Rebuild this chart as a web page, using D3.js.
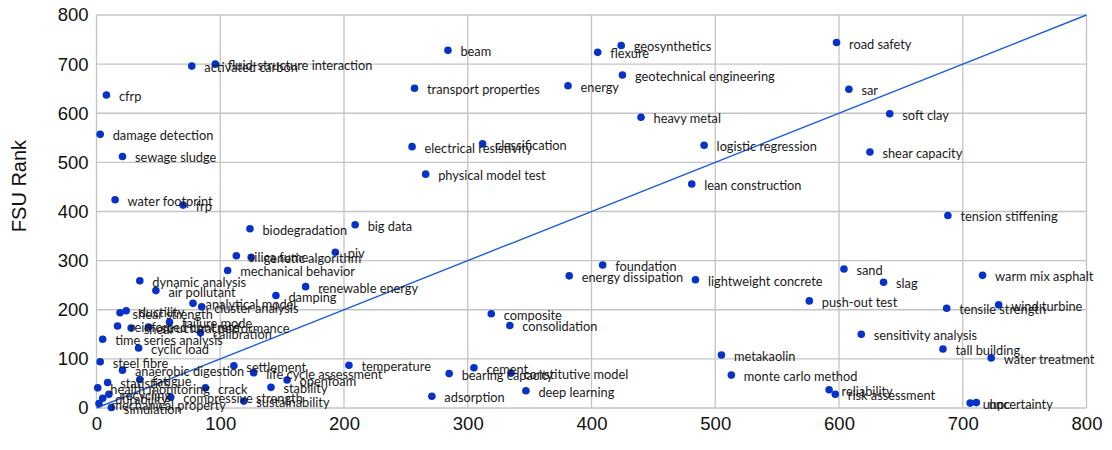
<!DOCTYPE html>
<html>
<head>
<meta charset="utf-8">
<script src="https://cdn.jsdelivr.net/npm/d3@7"></script>
<style>
  html, body { margin: 0; padding: 0; background: #fff; }
  svg { display: block; }
</style>
</head>
<body>
<svg id="chart" width="1112" height="450"></svg>
<script>
// ---- data ----
const labels = [
  "road safety","geosynthetics","beam","flexure","fluid-structure interaction","activated carbon",
  "geotechnical engineering","energy","transport properties","sar","cfrp","soft clay","heavy metal",
  "damage detection","classification","logistic regression","electrical resistivity","shear capacity",
  "sewage sludge","physical model test","lean construction","water footprint","frp","tension stiffening",
  "big data","biodegradation","piv","silica fume","genetic algorithm","foundation","sand",
  "mechanical behavior","warm mix asphalt","energy dissipation","lightweight concrete","dynamic analysis",
  "slag","renewable energy","air pollutant","damping","push-out test","analytical model","wind turbine",
  "cluster analysis","tensile strength","ductility","shear strength","composite","failure mode",
  "consolidation","reinforced concrete","structural performance","shear","calibration",
  "sensitivity analysis","time series analysis","cyclic load","tall building","metakaolin",
  "water treatment","steel fibre","temperature","settlement","cement","anaerobic digestion",
  "life cycle assessment","constitutive model","bearing capacity","monte carlo method","fatigue",
  "openfoam","statistics","stability","health monitoring","crack","reliability","deep learning",
  "risk assessment","adsorption","compressive strength","durability","recycling","sustainability",
  "uncertainty","uhpc","mechanical property","simulation"
];
const xValues = [
  598,424,284,405,96,77,
  425,381,257,608,8,641,440,
  3,312,491,255,625,
  21,266,481,15,70,688,
  209,124,193,113,125,409,604,
  106,716,382,484,35,
  636,169,48,145,576,78,729,
  85,687,24,19,319,59,
  334,17,42,28,84,
  618,5,34,684,505,
  723,3,204,111,305,21,
  127,335,285,513,35,
  154,9,141,1,88,592,347,
  597,271,60,5,10,119,
  711,706,2,12
];
const yValues = [
  744,738,728,724,700,696,
  678,656,651,649,637,599,592,
  557,538,535,532,521,
  512,476,456,424,413,392,
  373,365,317,310,307,291,283,
  280,270,269,261,259,
  256,247,239,229,218,213,210,
  206,203,198,194,192,175,
  168,167,165,163,153,
  150,140,122,120,108,
  102,94,87,86,82,77,
  72,71,70,67,58,
  57,52,42,41,41,37,35,
  28,24,22,20,28,14,
  11,10,9,1
];
const xTicks = [0,100,200,300,400,500,600,700,800];
const yTicks = [0,100,200,300,400,500,600,700,800];
const yTitle = "FSU Rank";

// ---- layout ----
const svg = d3.select("#chart");
const pLeft = 96.5, pRight = 1086.5, pTop = 15, pBottom = 408;
const x = d3.scaleLinear().domain([0, 800]).range([pLeft, pRight]);
const y = d3.scaleLinear().domain([0, 800]).range([pBottom, pTop]);

// grid
const grid = svg.append("g");
grid.selectAll("line.v").data(xTicks).join("line").attr("class", "v")
  .attr("x1", d => x(d)).attr("x2", d => x(d))
  .attr("y1", pTop).attr("y2", pBottom)
  .attr("stroke", "#c4c4c4").attr("stroke-width", 1.3);
grid.selectAll("line.h").data(yTicks).join("line").attr("class", "h")
  .attr("y1", d => y(d)).attr("y2", d => y(d))
  .attr("x1", pLeft).attr("x2", pRight)
  .attr("stroke", "#c4c4c4").attr("stroke-width", 1.3);

// axes (labels only)
const xAxis = d3.axisBottom(x).tickValues(xTicks).tickSize(0).tickPadding(9);
const gx = svg.append("g").attr("transform", `translate(0,${pBottom})`).call(xAxis);
gx.select(".domain").remove();
gx.selectAll("text").attr("font-family", "'Liberation Sans', Arial, sans-serif")
  .attr("font-size", 18.5).attr("fill", "#111");

const yAxis = d3.axisLeft(y).tickValues(yTicks).tickSize(0).tickPadding(8);
const gy = svg.append("g").attr("transform", `translate(${pLeft},0)`).call(yAxis);
gy.select(".domain").remove();
gy.selectAll("text").attr("font-family", "'Liberation Sans', Arial, sans-serif")
  .attr("font-size", 18.5).attr("fill", "#111");

svg.append("text")
  .attr("transform", `translate(26,186) rotate(-90)`)
  .attr("text-anchor", "middle")
  .attr("font-family", "'Liberation Sans', Arial, sans-serif")
  .attr("font-size", 20).attr("fill", "#111")
  .text(yTitle);

// diagonal reference line
svg.append("line")
  .attr("x1", x(0)).attr("y1", y(0))
  .attr("x2", x(800)).attr("y2", y(800))
  .attr("stroke", "#1f5fd6").attr("stroke-width", 1.4);

// points + labels
const pts = labels.map((l, i) => ({ label: l, x: xValues[i], y: yValues[i] }));
const g = svg.append("g");
g.selectAll("circle").data(pts).join("circle")
  .attr("cx", d => x(d.x)).attr("cy", d => y(d.y))
  .attr("r", 3.8).attr("fill", "#0632c8");
g.selectAll("text").data(pts).join("text")
  .attr("x", d => x(d.x) + 12.5).attr("y", d => y(d.y) + 6)
  .attr("font-family", "Lato, 'Open Sans', sans-serif")
  .attr("font-size", 12.8).attr("fill", "#1a1a1a")
  .text(d => d.label);
</script>
</body>
</html>
